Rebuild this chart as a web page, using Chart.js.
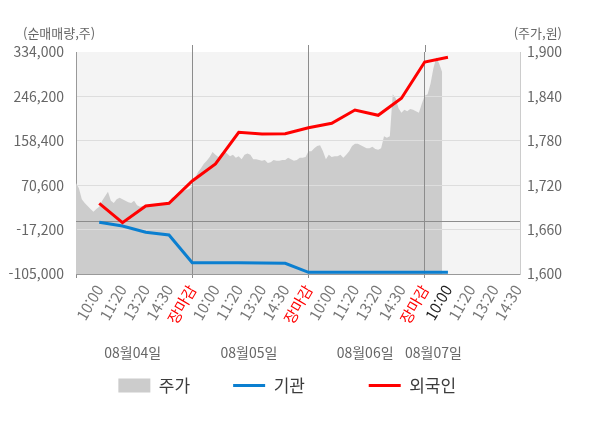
<!DOCTYPE html>
<html lang="ko">
<head>
<meta charset="utf-8">
<title>외국인·기관 순매매량</title>
<script src="https://cdn.jsdelivr.net/npm/chart.js@4.4.1/dist/chart.umd.min.js"></script>
<style>
  html, body { margin: 0; padding: 0; background: #fff; }
  #wrap { width: 600px; height: 428px; position: relative; }
</style>
</head>
<body>
<div id="wrap"><canvas id="chart"></canvas></div>
<script>
// x축 시간 라벨 (하루 5칸, 마지막 날은 장중)
const timeLabels = [
  "10:00", "11:20", "13:20", "14:30", "장마감",
  "10:00", "11:20", "13:20", "14:30", "장마감",
  "10:00", "11:20", "13:20", "14:30", "장마감",
  "10:00", "11:20", "13:20", "14:30"
];
const dates = ["08월04일", "08월05일", "08월06일", "08월07일"];
const leftTicks = [-105000, -17200, 70600, 158400, 246200, 334000];
const rightTicks = [1600, 1660, 1720, 1780, 1840, 1900];

// 누적 순매매량 (주)
const foreign = [34800, -3600, 29500, 34800, 78900, 112500, 175200, 171800, 172400, 184300,
  193000, 219300, 208800, 242400, 314200, 323500];
const inst = [-2800, -10100, -22500, -27900, -82700, -82900, -83000, -83300, -83800, -101600,
  -101600, -101700, -101700, -101700, -101700, -101700];

// 주가 (원)
const price0804 = [1723, 1716, 1701, 1696, 1692, 1688, 1684, 1688, 1691, 1699,
  1705, 1711, 1699, 1696, 1701, 1703, 1701, 1699, 1697, 1696,
  1699, 1693, 1691, 1692, 1691, 1691, 1692, 1692, 1693, 1693,
  1695, 1696, 1697, 1703, 1704, 1705, 1709, 1712, 1714, 1715];
const price0805 = [1719, 1730, 1738, 1743, 1749, 1753, 1758, 1765, 1761, 1758,
  1763, 1766, 1763, 1759, 1761, 1757, 1759, 1755, 1761, 1763,
  1761, 1755, 1755, 1754, 1753, 1754, 1750, 1751, 1754, 1753,
  1753, 1754, 1754, 1757, 1755, 1753, 1754, 1757, 1757, 1758];
const price0806 = [1766, 1766, 1770, 1773, 1774, 1766, 1755, 1761, 1758, 1759,
  1759, 1761, 1757, 1761, 1766, 1773, 1776, 1776, 1774, 1772,
  1770, 1770, 1772, 1769, 1768, 1770, 1786, 1784, 1786, 1843,
  1838, 1824, 1818, 1822, 1820, 1823, 1822, 1820, 1818, 1830];
const price0807 = [1841, 1843, 1857, 1878, 1893, 1884, 1873];
const priceDays = [price0804, price0805, price0806, price0807];

const slotsPerDay = 5;
const samplesPerDay = 40;
const step = slotsPerDay / samplesPerDay;

const pricePoints = [];
priceDays.forEach((day, d) => {
  day.forEach((p, i) => pricePoints.push({ x: d * slotsPerDay + i * step, y: p }));
});
const dateTicks = priceDays.map((day, d) => d * slotsPerDay + (day.length - 1) * step / 2);
const nowTick = foreign.length;

const fmt = v => v.toLocaleString("en-US");
const clear = "rgba(0,0,0,0)";
// 범례 항목 사이 간격 (원본처럼 고르지 않음)
const legendGap = ["\u2003\u2003", "\u2003\u2003\u2003 ", "\u2003\u2002"];
Chart.defaults.font.family = '"Noto Sans CJK KR", "Noto Sans", sans-serif';

const extras = {
  id: "extras",
  beforeDraw(chart) {
    const { ctx, chartArea: a } = chart;
    ctx.save();
    ctx.fillStyle = "#f4f4f4";
    ctx.fillRect(a.left, a.top, a.right - a.left, a.bottom - a.top);
    ctx.restore();
  },
  afterDatasetDraw(chart, args) {
    if (args.index !== 0) return;
    // 격자선은 주가 영역 위에 다시 그림
    chart.scales.y.drawGrid(chart.chartArea);
    chart.scales.x.drawGrid(chart.chartArea);
    const { ctx, chartArea: a } = chart;
    const y0 = Math.round(chart.scales.y.getPixelForValue(0)) + 0.5;
    ctx.save();
    ctx.strokeStyle = "#8c8c8c";
    ctx.lineWidth = 1;
    ctx.beginPath();
    ctx.moveTo(a.left, y0);
    ctx.lineTo(a.right, y0);
    ctx.stroke();
    ctx.restore();
  },
  afterDraw(chart) {
    const { ctx, chartArea: a } = chart;
    ctx.save();
    ctx.strokeStyle = "#8c8c8c";
    ctx.lineWidth = 1;
    for (let d = 1; d < priceDays.length; d++) {
      const px = Math.round(chart.scales.x.getPixelForValue(d * slotsPerDay)) + 0.5;
      ctx.beginPath();
      ctx.moveTo(px, a.top - 7);
      ctx.lineTo(px, a.top);
      ctx.stroke();
    }
    ctx.fillStyle = "#666";
    ctx.font = '13px "Noto Sans CJK KR"';
    ctx.textBaseline = "middle";
    ctx.textAlign = "left";
    ctx.fillText("(순매매량,주)", a.left - 53, a.top - 19);
    ctx.textAlign = "right";
    ctx.fillText("(주가,원)", a.right + 42, a.top - 19);
    ctx.restore();
  }
};

new Chart(document.getElementById("chart"), {
  type: "line",
  data: {
    datasets: [
      {
        label: "주가",
        data: pricePoints,
        yAxisID: "y1",
        fill: "start",
        backgroundColor: "#cccccc",
        borderColor: clear,
        borderWidth: 0,
        pointRadius: 0,
        pointStyle: "rect",
        tension: 0,
        order: 3
      },
      {
        label: "기관",
        data: inst.map((v, i) => ({ x: i + 1, y: v })),
        yAxisID: "y",
        borderColor: "#0b7fd0",
        backgroundColor: "#0b7fd0",
        borderWidth: 3,
        pointRadius: 0,
        pointStyle: "line",
        tension: 0,
        order: 2
      },
      {
        label: "외국인",
        data: foreign.map((v, i) => ({ x: i + 1, y: v })),
        yAxisID: "y",
        borderColor: "#ff0000",
        backgroundColor: "#ff0000",
        borderWidth: 3,
        pointRadius: 0,
        pointStyle: "line",
        tension: 0,
        order: 1
      }
    ]
  },
  options: {
    responsive: true,
    maintainAspectRatio: false,
    animation: false,
    layout: { padding: { top: 52, left: 0, right: 0, bottom: 24 } },
    plugins: {
      tooltip: { enabled: false },
      legend: {
        position: "bottom",
        labels: {
          usePointStyle: true,
          pointStyleWidth: 32,
          boxHeight: 14,
          padding: 9,
          color: "#3c3c3c",
          font: { size: 17 },
          sort: (a, b) => a.datasetIndex - b.datasetIndex,
          generateLabels: chart => Chart.defaults.plugins.legend.labels.generateLabels(chart)
            .map(item => Object.assign(item, { text: item.text + legendGap[item.datasetIndex] }))
        }
      }
    },
    scales: {
      x: {
        type: "linear",
        min: 0,
        max: 19.1,
        weight: 0,
        afterBuildTicks: s => { s.ticks = [0].concat(timeLabels.map((l, i) => i + 1)).map(v => ({ value: v })); },
        afterFit: s => { s.height = 64; },
        ticks: {
          autoSkip: false,
          minRotation: 60,
          maxRotation: 60,
          padding: 4,
          font: { size: 15 },
          callback: v => (v === 0 ? "" : timeLabels[v - 1]),
          color: c => {
            const l = timeLabels[c.tick.value - 1];
            if (l === "장마감") return "#ff0000";
            if (c.tick.value === nowTick) return "#222";
            return "#777";
          }
        },
        grid: {
          color: c => (c.tick && c.tick.value > 0 && c.tick.value % slotsPerDay === 0 ? "#8c8c8c" : clear),
          tickColor: c => (c.tick && c.tick.value % slotsPerDay === 0 ? "#8c8c8c" : clear),
          tickLength: 4
        },
        border: { color: "#999" }
      },
      x2: {
        type: "linear",
        position: "bottom",
        axis: "x",
        min: 0,
        max: 19.1,
        weight: 1,
        afterBuildTicks: s => { s.ticks = dateTicks.map(v => ({ value: v })); },
        afterFit: s => { s.height = 30; },
        grid: { display: false, drawTicks: false },
        border: { display: false },
        ticks: {
          autoSkip: false,
          maxRotation: 0,
          padding: 6,
          color: "#666",
          font: { size: 14 },
          callback: (v, i) => dates[i]
        }
      },
      y: {
        position: "left",
        min: leftTicks[0],
        max: leftTicks[leftTicks.length - 1],
        afterBuildTicks: s => { s.ticks = leftTicks.map(v => ({ value: v })); },
        afterFit: s => { s.width = 76; },
        ticks: { padding: 12, color: "#666", font: { size: 14 }, callback: v => fmt(v) },
        grid: {
          drawTicks: false,
          color: c => (c.tick && (c.tick.value === leftTicks[0] || c.tick.value === leftTicks[leftTicks.length - 1]) ? clear : "#dddddd")
        },
        border: { color: "#999" }
      },
      y1: {
        position: "right",
        min: rightTicks[0],
        max: rightTicks[rightTicks.length - 1],
        afterBuildTicks: s => { s.ticks = rightTicks.map(v => ({ value: v })); },
        afterFit: s => { s.width = 80; },
        ticks: { padding: 7, color: "#666", font: { size: 14 }, callback: v => fmt(v) },
        grid: { display: false, drawTicks: false },
        border: { color: "#cccccc" }
      }
    }
  },
  plugins: [extras]
});
</script>
</body>
</html>
